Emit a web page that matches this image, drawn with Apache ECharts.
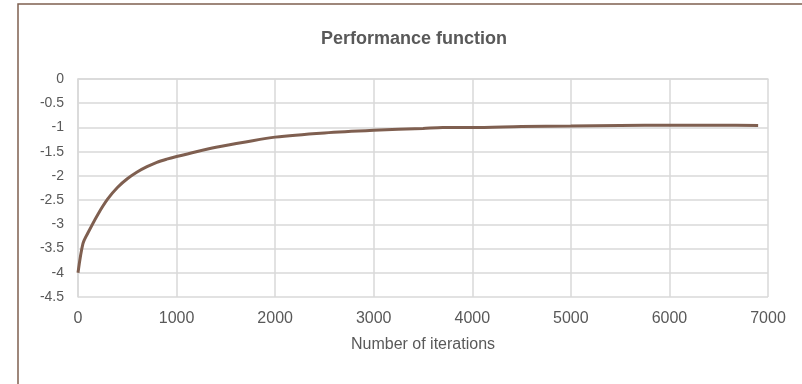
<!DOCTYPE html>
<html>
<head>
<meta charset="utf-8">
<script src="https://cdn.jsdelivr.net/npm/echarts@6/dist/echarts.min.js"></script>
<style>html,body{margin:0;padding:0;background:#fff}#c{width:802px;height:384px}</style>
</head>
<body>
<div id="c"></div>
<script>
const iterations = [0, 50, 100, 200, 300, 400, 500, 600, 700, 800, 900, 1000, 1200, 1400, 1700, 2000, 2500, 3000, 3500, 3700, 4000, 4500, 5000, 5500, 6000, 6500, 6900];
const performance = [-4.0, -3.4, -3.18, -2.8, -2.48, -2.24, -2.06, -1.92, -1.81, -1.72, -1.655, -1.6, -1.5, -1.41, -1.3, -1.2, -1.115, -1.06, -1.02, -1.0, -1.0, -0.98, -0.97, -0.96, -0.955, -0.955, -0.96];
const titleText = "Performance function";
const xAxisName = "Number of iterations";

const chart = echarts.init(document.getElementById('c'), null, {renderer: 'canvas'});
const data = iterations.map((x, i) => [x, performance[i]]);
chart.setOption({
  animation: false,
  backgroundColor: '#fff',
  title: {
    text: titleText, left: 316, top: 25,
    textStyle: {fontFamily: 'Liberation Sans', fontSize: 18, fontWeight: 'bold', color: '#595959'}
  },
  graphic: [{
    type: 'rect', shape: {x: 18, y: 4, width: 800, height: 400},
    style: {fill: 'none', stroke: '#7f6050', lineWidth: 1.5}, silent: true
  }],
  grid: {left: 78, right: 34, top: 79, bottom: 87},
  xAxis: {
    type: 'value', min: 0, max: 7000, interval: 1000,
    name: xAxisName, nameLocation: 'middle', nameGap: 40,
    nameTextStyle: {fontFamily: 'Liberation Sans', fontSize: 16, color: '#595959'},
    axisLine: {show: true, lineStyle: {color: '#d9d9d9', width: 1.5}},
    axisTick: {show: false},
    axisLabel: {fontFamily: 'Liberation Sans', fontSize: 16, color: '#595959', margin: 14, formatter: v => String(v)},
    splitLine: {show: true, lineStyle: {color: '#d9d9d9', width: 1.5}}
  },
  yAxis: {
    type: 'value', min: -4.5, max: 0, interval: 0.5,
    axisLine: {show: true, lineStyle: {color: '#d9d9d9', width: 1.5}},
    axisTick: {show: false},
    axisLabel: {fontFamily: 'Liberation Sans', fontSize: 14, color: '#595959', margin: 14, formatter: v => String(v)},
    splitLine: {show: true, lineStyle: {color: '#d9d9d9', width: 1.5}}
  },
  series: [{
    type: 'line', data: data, smooth: 0.3, showSymbol: false,
    lineStyle: {color: '#7f5f50', width: 3}
  }]
});
</script>
</body>
</html>
